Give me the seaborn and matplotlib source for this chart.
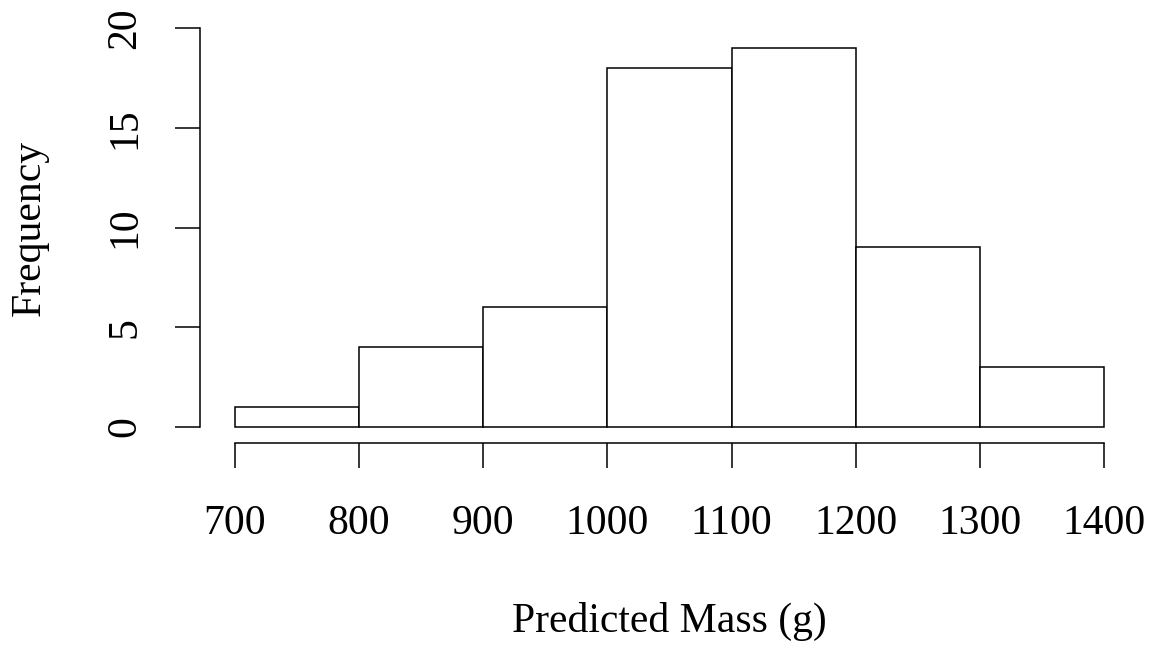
import numpy as np
import matplotlib
matplotlib.use("Agg")
import matplotlib.pyplot as plt
import seaborn as sns

# bin edges and counts
bin_edges = [700, 800, 900, 1000, 1100, 1200, 1300, 1400]
counts = [1, 4, 6, 18, 19, 9, 3]
x_ticks = [700, 800, 900, 1000, 1100, 1200, 1300, 1400]
y_ticks = [0, 5, 10, 15, 20]

bin_mids = [(a + b) / 2 for a, b in zip(bin_edges[:-1], bin_edges[1:])]

sns.set_theme(style="white")
plt.rcParams['font.family'] = ['Liberation Serif', 'DejaVu Serif']
plt.rcParams['text.color'] = 'black'
plt.rcParams['axes.labelcolor'] = 'black'

fig = plt.figure(figsize=(11.54, 6.48), dpi=100)
ax = fig.add_axes([200 / 1154, (648 - 443) / 648, 939 / 1154, 431 / 648])

sns.histplot(x=bin_mids, weights=counts, bins=bin_edges, ax=ax,
             color="white", edgecolor="black", linewidth=1.1, alpha=1)

ax.set_xlim(672, 1428)
ax.set_ylim(-0.8, 20.8)

for side in ['top', 'right']:
    ax.spines[side].set_visible(False)
ax.spines['left'].set_bounds(0, 20)
ax.spines['bottom'].set_bounds(700, 1400)
for side in ['left', 'bottom']:
    ax.spines[side].set_color('black')
    ax.spines[side].set_linewidth(1.1)

ax.set_xticks(x_ticks)
ax.set_yticks(y_ticks)
ax.tick_params(axis='both', direction='out', length=18, width=1.1,
               colors='black', labelcolor='black', labelsize=30,
               bottom=True, left=True)
ax.tick_params(axis='x', pad=26)
ax.tick_params(axis='y', pad=22)
for lbl in ax.get_yticklabels():
    lbl.set_rotation(90)
    lbl.set_va('center')

ax.set_xlabel('Predicted Mass (g)', fontsize=30, va='center', color='black')
ax.set_ylabel('Frequency', fontsize=30, va='center', color='black')
ax.xaxis.set_label_coords(0.5, (443 - 621) / 431)
ax.yaxis.set_label_coords((30 - 200) / 939, 0.5)
ax.grid(False)

fig.savefig("out.png", dpi=100, facecolor='white')
